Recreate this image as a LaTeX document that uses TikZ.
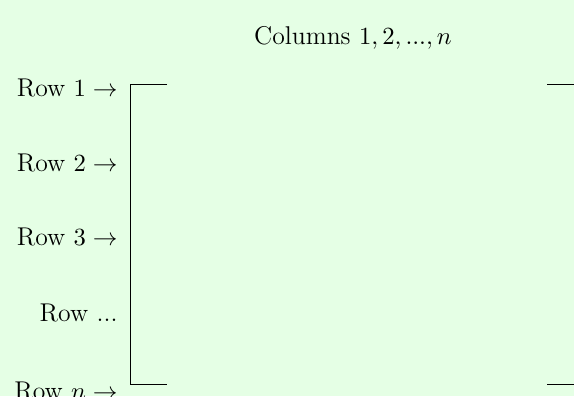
\documentclass[tikz,border=0pt]{standalone}
\begin{document}
\begin{tikzpicture}[x=0.444pt,y=-0.444pt,
    every node/.style={font=\fontsize{11.4}{13}\selectfont},
    rowlabel/.style={anchor=east,inner sep=0pt}]
    \fill[green!10] (0,0) rectangle (574,396);
    \useasboundingbox (0,0) rectangle (574,396);
    % Column heading
    \node (cols) at (353,38) {Columns $1,2,...,n$};
    % Row labels
    \node[rowlabel] (row1) at (118,88) {Row $1\rightarrow$};
    \node[rowlabel] (row2) at (118,163) {Row $2\rightarrow$};
    \node[rowlabel] (row3) at (118,237) {Row $3\rightarrow$};
    \node[rowlabel] (rowdots) at (118,313) {Row ...};
    \node[rowlabel] (rown) at (118,391) {Row $n\rightarrow$};
    % Bracket corners
    \coordinate (TL) at (130,84);
    \coordinate (BL) at (130,384);
    \coordinate (TR) at (547,84);
    \coordinate (BR) at (547,384);
    \draw (TL) ++(37,0) -- (TL) -- (BL) -- ++(37,0);
    \draw (TR) -- ++(40,0);
    \draw (BR) -- ++(40,0);
\end{tikzpicture}
\end{document}
